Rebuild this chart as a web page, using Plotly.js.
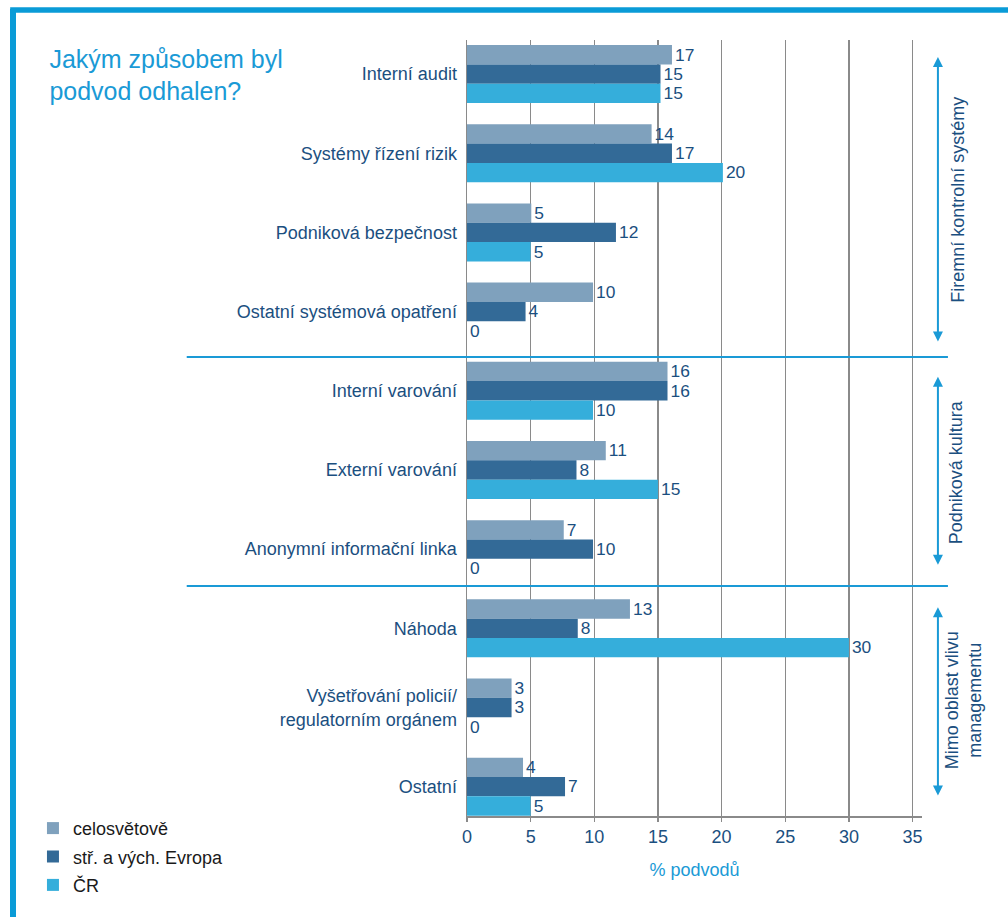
<!DOCTYPE html>
<html>
<head>
<meta charset="utf-8">
<script src="https://cdn.plot.ly/plotly-3.0.1.min.js"></script>
<style>html,body{margin:0;padding:0;background:#fff;}#chart{width:1008px;height:917px;}</style>
</head>
<body>
<div id="chart"></div>
<script>
// Categories (top to bottom)
const categories = [
  "Interní audit",
  "Systémy řízení rizik",
  "Podniková bezpečnost",
  "Ostatní systémová opatření",
  "Interní varování",
  "Externí varování",
  "Anonymní informační linka",
  "Náhoda",
  "Vyšetřování policií/<br>regulatorním orgánem",
  "Ostatní"
];
const seriesNames = ["celosvětově", "stř. a vých. Evropa", "ČR"];

// Bar lengths as drawn in the picture (%)
const celosvetove = [16.1, 14.5, 5.05, 9.9, 15.75, 10.9, 7.6, 12.8, 3.5, 4.4];
const strVychEvropa = [15.2, 16.1, 11.7, 4.6, 15.75, 8.6, 9.9, 8.7, 3.5, 7.7];
const cr = [15.2, 20.1, 5.0, 0, 9.9, 15.0, 0, 30.0, 0, 5.0];

// Printed value labels
const celosvetoveLabels = [17, 14, 5, 10, 16, 11, 7, 13, 3, 4];
const strVychEvropaLabels = [15, 17, 12, 4, 16, 8, 10, 8, 3, 7];
const crLabels = [15, 20, 5, 0, 10, 15, 0, 30, 0, 5];

const xTicks = [0, 5, 10, 15, 20, 25, 30, 35];

// Section labels
const sections = ["Firemní kontrolní systémy", "Podniková kultura", "Mimo oblast vlivu<br>managementu"];

const colors = ["#7fa1bd", "#336a97", "#35aedb"];
const darkBlue = "#1b4f80";
const lightBlue = "#1a9ad6";
const fontFam = "Liberation Sans, Arial, sans-serif";

const vals = [celosvetove, strVychEvropa, cr];
const labs = [celosvetoveLabels, strVychEvropaLabels, crLabels];

const traces = vals.map((v, i) => ({
  type: "bar",
  orientation: "h",
  name: seriesNames[i],
  legendgroup: "g" + i,
  y: categories,
  x: v,
  text: labs[i].map(String),
  textposition: "outside",
  cliponaxis: false,
  textfont: {family: fontFam, size: 18, color: darkBlue},
  marker: {color: colors[i]},
  hoverinfo: "x+y"
}));

const shapes = [
  // frame
  {type: "line", xref: "paper", yref: "paper", x0: -0.9978, x1: -0.9978, y0: 1.04, y1: -0.135, line: {color: "#0a9bd7", width: 6}},
  {type: "line", xref: "paper", yref: "paper", x0: -1.004, x1: 1.19, y0: 1.0387, y1: 1.0387, line: {color: "#0a9bd7", width: 5.5}},
  // section separators
  {type: "line", xref: "paper", yref: "paper", x0: -0.616, x1: 1.057, y0: 0.5915, y1: 0.5915, line: {color: lightBlue, width: 2}},
  {type: "line", xref: "paper", yref: "paper", x0: -0.616, x1: 1.057, y0: 0.2964, y1: 0.2964, line: {color: lightBlue, width: 2}}
];

function arrow(yTop, yBot) {
  return {
    xref: "paper", yref: "paper", axref: "paper", ayref: "paper",
    x: 1.035, y: yTop, ax: 1.035, ay: yBot,
    text: "", showarrow: true, arrowside: "end+start",
    arrowhead: 2, arrowsize: 1, arrowwidth: 2, arrowcolor: lightBlue
  };
}

const annotations = [
  arrow(0.978, 0.6095),
  arrow(0.566, 0.322),
  arrow(0.269, 0.0245),
  {xref: "paper", yref: "paper", x: 1.079, y: 0.794, text: sections[0], textangle: -90, showarrow: false,
   font: {family: fontFam, size: 18, color: darkBlue}, xanchor: "center", yanchor: "middle"},
  {xref: "paper", yref: "paper", x: 1.075, y: 0.443, text: sections[1], textangle: -90, showarrow: false,
   font: {family: fontFam, size: 18, color: darkBlue}, xanchor: "center", yanchor: "middle"},
  {xref: "paper", yref: "paper", x: 1.09, y: 0.149, text: sections[2], textangle: -90, showarrow: false,
   font: {family: fontFam, size: 18, color: darkBlue}, xanchor: "center", yanchor: "middle"}
];

const layout = {
  width: 1008, height: 917,
  margin: {l: 467, r: 86, t: 40, b: 101, pad: 0},
  paper_bgcolor: "#fff", plot_bgcolor: "#fff",
  font: {family: fontFam, color: darkBlue},
  title: {
    text: "Jakým způsobem byl<br>podvod odhalen?",
    font: {family: fontFam, size: 25, color: lightBlue},
    xref: "container", yref: "container",
    x: 0.049, xanchor: "left", y: 0.926, yanchor: "top"
  },
  barmode: "group",
  bargap: 0.268,
  bargroupgap: 0,
  xaxis: {
    range: [0, 35.74],
    tickvals: xTicks,
    ticktext: xTicks.map(String),
    showgrid: true, gridcolor: "#8a8a8a", gridwidth: 1.5,
    showline: true, linecolor: "#8a8a8a", linewidth: 1.5,
    ticks: "outside", ticklen: 4, tickcolor: "#8a8a8a", tickwidth: 1.5,
    tickfont: {family: fontFam, size: 18, color: darkBlue},
    zeroline: false,
    title: {text: "% podvodů", font: {family: fontFam, size: 18, color: lightBlue}, standoff: 17}
  },
  yaxis: {
    type: "category",
    range: [9.37, -0.43],
    showgrid: false,
    showline: true, linecolor: "#8a8a8a", linewidth: 1.5,
    ticks: "outside", ticklen: 5, tickcolor: "rgba(0,0,0,0)",
    tickfont: {family: fontFam, size: 18, color: darkBlue},
    zeroline: false
  },
  showlegend: true,
  legend: {
    xref: "container", yref: "container",
    x: 0.0327, xanchor: "left", y: 0.1168, yanchor: "top",
    traceorder: "grouped", tracegroupgap: 2,
    font: {family: fontFam, size: 18, color: "#1a1a1a"},
    bgcolor: "rgba(0,0,0,0)"
  },
  shapes: shapes,
  annotations: annotations
};

Plotly.newPlot("chart", traces, layout, {displayModeBar: false, staticPlot: true});
</script>
</body>
</html>
